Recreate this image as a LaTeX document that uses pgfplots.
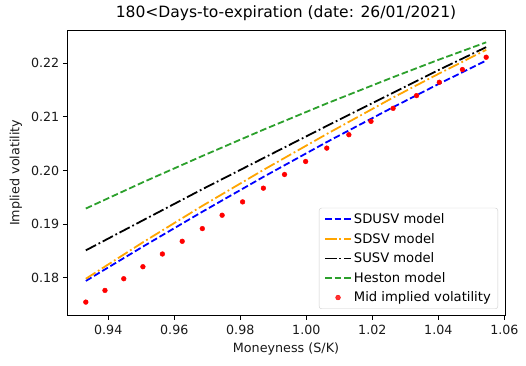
\documentclass[border=0pt]{standalone}
\usepackage{fontspec}
\setmainfont{DejaVu Sans}
\usepackage{pgfplots}
\pgfplotsset{compat=1.18}
\definecolor{mplgreen}{HTML}{2CA02C}
\definecolor{mplorange}{HTML}{FFA500}
\definecolor{legedge}{HTML}{CCCCCC}
\pgfplotsset{
  linelegend/.style={legend image code/.code={\draw[##1] (0bp,0bp) -- (26bp,0bp);}},
  dotlegend/.style={legend image code/.code={\draw[##1] plot coordinates {(13bp,0bp)};}},
}
\begin{document}
\begin{tikzpicture}
\path[use as bounding box] (-67bp,-50bp) rectangle (459bp,315.5bp);
\begin{axis}[
  anchor=south west, at={(0,0)},
  scale only axis, width=438bp, height=285.5bp,
  xmin=0.9275, xmax=1.0602, ymin=0.17295, ymax=0.2262,
  xtick={0.94,0.96,0.98,1.00,1.02,1.04,1.06},
  ytick={0.18,0.19,0.20,0.21,0.22},
  /pgf/number format/assume math mode=true,
  /pgf/number format/fixed,
  /pgf/number format/fixed zerofill,
  /pgf/number format/precision=2,
  tick label style={font=\fontsize{12.7}{14}\selectfont, text=black!90},
  tick align=outside, tick pos=left,
  major tick length=4.2bp,
  every tick/.style={black, line width=0.9bp},
  axis line style={line width=0.9bp},
  xticklabel style={yshift=-1.5bp},
  title={180<Days-to-expiration (date: 26/01/2021)},
  title style={font=\fontsize{15.6}{17}\selectfont, at={(axis description cs:0.5,1.0)}, anchor=south, yshift=-0.5bp},
  xlabel={Moneyness (S/K)},
  ylabel={Implied volatility},
  label style={font=\fontsize{12.8}{14}\selectfont, text=black!90},
  xlabel style={at={(axis description cs:0.5,-0.1156)}, anchor=center},
  ylabel style={at={(axis description cs:-0.1165,0.5)}, anchor=center, rotate=0},
  legend style={at={(axis description cs:1,0)}, anchor=south east, xshift=-7bp, yshift=6.5bp,
    draw=legedge, rounded corners=2.5bp, fill=white, fill opacity=0.8, text opacity=1,
    font=\fontsize{13.2}{14}\selectfont, inner xsep=5bp, inner ysep=3.5bp,
    row sep=4.1bp},
  legend cell align=left,
  linelegend,
]
\addplot[blue, line width=1.8bp, dash pattern=on 6.66bp off 2.88bp] coordinates {
(0.9332,0.1794)(0.9505,0.1858)(0.9685,0.1923)(0.9870,0.1988)(1.0062,0.2053)(1.0263,0.2118)(1.0403,0.2162)(1.0545,0.2205)};
\addlegendentry{SDUSV model}
\addplot[mplorange, line width=1.8bp, dash pattern=on 11.5bp off 2.88bp on 1.8bp off 2.88bp] coordinates {
(0.9332,0.1798)(0.9505,0.1866)(0.9685,0.1934)(0.9870,0.2001)(1.0062,0.2068)(1.0263,0.2136)(1.0403,0.2181)(1.0545,0.2225)};
\addlegendentry{SDSV model}
\addplot[black, line width=1.8bp, dash pattern=on 11.5bp off 2.88bp on 1.8bp off 2.88bp] coordinates {
(0.9332,0.1851)(0.9505,0.1907)(0.9685,0.1965)(0.9870,0.2023)(1.0062,0.2083)(1.0263,0.2145)(1.0403,0.2188)(1.0545,0.2230)};
\addlegendentry{SUSV model}
\addplot[mplgreen, line width=1.8bp, dash pattern=on 6.66bp off 2.88bp] coordinates {
(0.9332,0.1929)(0.9505,0.1978)(0.9685,0.2027)(0.9870,0.2076)(1.0062,0.2125)(1.0263,0.2174)(1.0403,0.2207)(1.0545,0.2239)};
\addlegendentry{Heston model}
\addplot[only marks, mark=*, red, mark size=2.4bp, mark options={draw=none, fill=red}, dotlegend] coordinates {
(0.9332,0.17545)(0.9390,0.17763)(0.9447,0.17981)(0.9505,0.18205)(0.9564,0.18442)
(0.9624,0.18679)(0.9685,0.18916)(0.9745,0.19165)(0.9807,0.19414)(0.9870,0.19670)
(0.9934,0.19925)(0.9998,0.20168)(1.0062,0.20417)(1.0129,0.20667)(1.0196,0.20916)
(1.0263,0.21159)(1.0334,0.21396)(1.0403,0.21645)(1.0473,0.21882)(1.0545,0.22112)};
\addlegendentry{Mid implied volatility}
\end{axis}
\end{tikzpicture}
\end{document}
